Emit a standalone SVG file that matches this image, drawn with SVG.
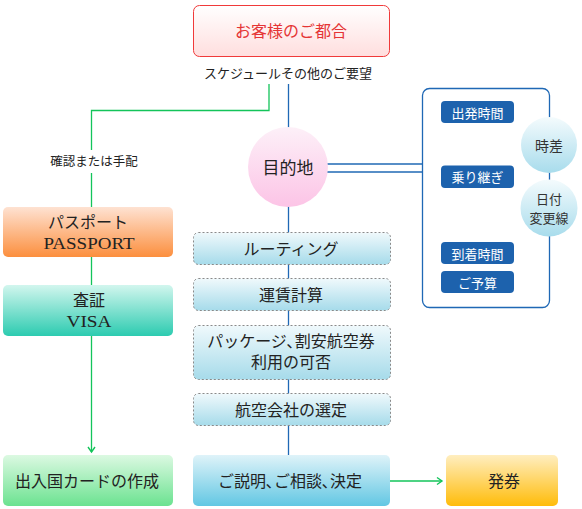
<svg xmlns="http://www.w3.org/2000/svg" width="582" height="509" viewBox="0 0 582 509">
<defs>
<linearGradient id="gRed" x1="0" y1="0" x2="0" y2="1"><stop offset="0" stop-color="#ffffff"/><stop offset="1" stop-color="#ffdede"/></linearGradient>
<linearGradient id="gPink" x1="0" y1="0" x2="0" y2="1"><stop offset="0" stop-color="#fdf0f8"/><stop offset="1" stop-color="#fcc4e6"/></linearGradient>
<linearGradient id="gOrange" x1="0" y1="0" x2="0" y2="1"><stop offset="0" stop-color="#fee2d2"/><stop offset="1" stop-color="#fc8f3e"/></linearGradient>
<linearGradient id="gTeal" x1="0" y1="0" x2="0" y2="1"><stop offset="0" stop-color="#d2f6ee"/><stop offset="1" stop-color="#2ccbb0"/></linearGradient>
<linearGradient id="gGreen" x1="0" y1="0" x2="0" y2="1"><stop offset="0" stop-color="#dcf9e2"/><stop offset="1" stop-color="#6be290"/></linearGradient>
<linearGradient id="gDash" x1="0" y1="0" x2="0" y2="1"><stop offset="0" stop-color="#f0f9fc"/><stop offset="1" stop-color="#a6dbea"/></linearGradient>
<linearGradient id="gBlue" x1="0" y1="0" x2="0" y2="1"><stop offset="0" stop-color="#dff3f9"/><stop offset="1" stop-color="#62c7e3"/></linearGradient>
<linearGradient id="gYellow" x1="0" y1="0" x2="0" y2="1"><stop offset="0" stop-color="#ffeec0"/><stop offset="1" stop-color="#ffbc0a"/></linearGradient>
<linearGradient id="gCirc" x1="0" y1="0" x2="0" y2="1"><stop offset="0" stop-color="#f4fbfd"/><stop offset="1" stop-color="#a8dcec"/></linearGradient>
<marker id="arrG" markerWidth="10" markerHeight="10" refX="8" refY="5" orient="auto" markerUnits="userSpaceOnUse">
<polyline points="3,1.5 8,5 3,8.5" fill="none" stroke="#13c45a" stroke-width="1.4"/>
</marker>
</defs>
<style>
.t{font-family:"Liberation Serif","Noto Sans CJK JP",serif;fill:#222;text-anchor:middle;dominant-baseline:central}
.s{font-family:"Noto Sans CJK JP","Liberation Sans",sans-serif;text-anchor:middle;dominant-baseline:central}
.bl{stroke:#1f68b5;stroke-width:1.3;fill:none}
.gr{stroke:#13c45a;stroke-width:1.3;fill:none}
.badge{fill:#1d62ad}
.bt{font-family:"Noto Sans CJK JP","Liberation Sans",sans-serif;fill:#fff;font-size:13px;text-anchor:middle;dominant-baseline:central}
.dash{fill:url(#gDash);stroke:#8a8a8a;stroke-width:1;stroke-dasharray:2,2}
</style>

<g id="connectors">
<line class="bl" x1="288.5" y1="84" x2="288.5" y2="455"/>
<line class="bl" x1="327" y1="164" x2="422" y2="164"/>
<line class="bl" x1="327" y1="172" x2="422" y2="172"/>
<polyline class="gr" points="269,84 269,110.5 91.5,110.5 91.5,150"/>
<line class="gr" x1="91.5" y1="173" x2="91.5" y2="452" marker-end="url(#arrG)"/>
<line class="gr" x1="389" y1="481" x2="442" y2="481" marker-end="url(#arrG)"/>
</g>

<g id="n-request">
<rect x="193.5" y="5.5" width="196" height="51" rx="6" fill="url(#gRed)" stroke="#f03a3a" stroke-width="1"/>
<text class="t" x="291" y="31" font-size="16" style="fill:#e53535">お客様のご都合</text>
</g>
<text class="t" x="288" y="73" font-size="13">スケジュールその他のご要望</text>
<text class="t" x="94" y="162" font-size="12.5">確認または手配</text>

<g id="n-destination">
<circle cx="288" cy="167" r="40" fill="url(#gPink)"/>
<text class="t" x="288" y="168" font-size="17">目的地</text>
</g>

<g id="n-panel">
<rect x="422.5" y="88.5" width="127" height="219" rx="7" fill="none" stroke="#1f68b5" stroke-width="1.3"/>
<rect class="badge" x="441" y="101" width="73" height="22" rx="4"/>
<text class="bt" x="477.5" y="112">出発時間</text>
<rect class="badge" x="441" y="165.5" width="73" height="22.5" rx="4"/>
<text class="bt" x="477.5" y="176.5">乗り継ぎ</text>
<rect class="badge" x="441" y="242" width="73" height="22" rx="4"/>
<text class="bt" x="477.5" y="253">到着時間</text>
<rect class="badge" x="441" y="271" width="73" height="22" rx="4"/>
<text class="bt" x="477.5" y="282">ご予算</text>
</g>
<g id="n-timediff">
<circle cx="549" cy="145" r="28" fill="url(#gCirc)"/>
<text class="s" x="549" y="145" font-size="14" fill="#333">時差</text>
</g>
<g id="n-dateline">
<circle cx="549" cy="208" r="28.5" fill="url(#gCirc)"/>
<text class="s" x="549" y="198" font-size="13" fill="#333">日付</text>
<text class="s" x="549" y="217" font-size="13" fill="#333">変更線</text>
</g>

<g id="n-passport">
<rect x="3" y="207" width="170" height="50" rx="5" fill="url(#gOrange)"/>
<text class="t" x="88" y="222" font-size="16">パスポート</text>
<text class="t" x="89" y="243" font-size="17" textLength="91" lengthAdjust="spacingAndGlyphs">PASSPORT</text>
</g>
<g id="n-visa">
<rect x="3" y="285" width="170" height="51" rx="5" fill="url(#gTeal)"/>
<text class="t" x="89" y="300" font-size="16">査証</text>
<text class="t" x="89" y="321" font-size="17" textLength="45" lengthAdjust="spacingAndGlyphs">VISA</text>
</g>
<g id="n-card">
<rect x="3" y="455" width="170" height="51" rx="5" fill="url(#gGreen)"/>
<text class="t" x="87" y="481" font-size="16">出入国カードの作成</text>
</g>

<g id="n-routing">
<rect class="dash" x="193.5" y="232.5" width="197" height="32" rx="5"/>
<text class="t" x="291" y="249" font-size="16">ルーティング</text>
</g>
<g id="n-fare">
<rect class="dash" x="193.5" y="278.5" width="197" height="32" rx="5"/>
<text class="t" x="291" y="295" font-size="16">運賃計算</text>
</g>
<g id="n-package">
<rect class="dash" x="193.5" y="325.5" width="197" height="54" rx="5"/>
<text class="t" x="291" y="341" font-size="16">パッケージ､割安航空券</text>
<text class="t" x="291" y="362" font-size="16">利用の可否</text>
</g>
<g id="n-airline">
<rect class="dash" x="193.5" y="393.5" width="197" height="32" rx="5"/>
<text class="t" x="291" y="410" font-size="16">航空会社の選定</text>
</g>
<g id="n-explain">
<rect x="193" y="455" width="197" height="51" rx="5" fill="url(#gBlue)"/>
<text class="t" x="290" y="481" font-size="16">ご説明､ご相談､決定</text>
</g>
<g id="n-ticket">
<rect x="446" y="455" width="112" height="51" rx="5" fill="url(#gYellow)"/>
<text class="t" x="504" y="481" font-size="16">発券</text>
</g>
</svg>
